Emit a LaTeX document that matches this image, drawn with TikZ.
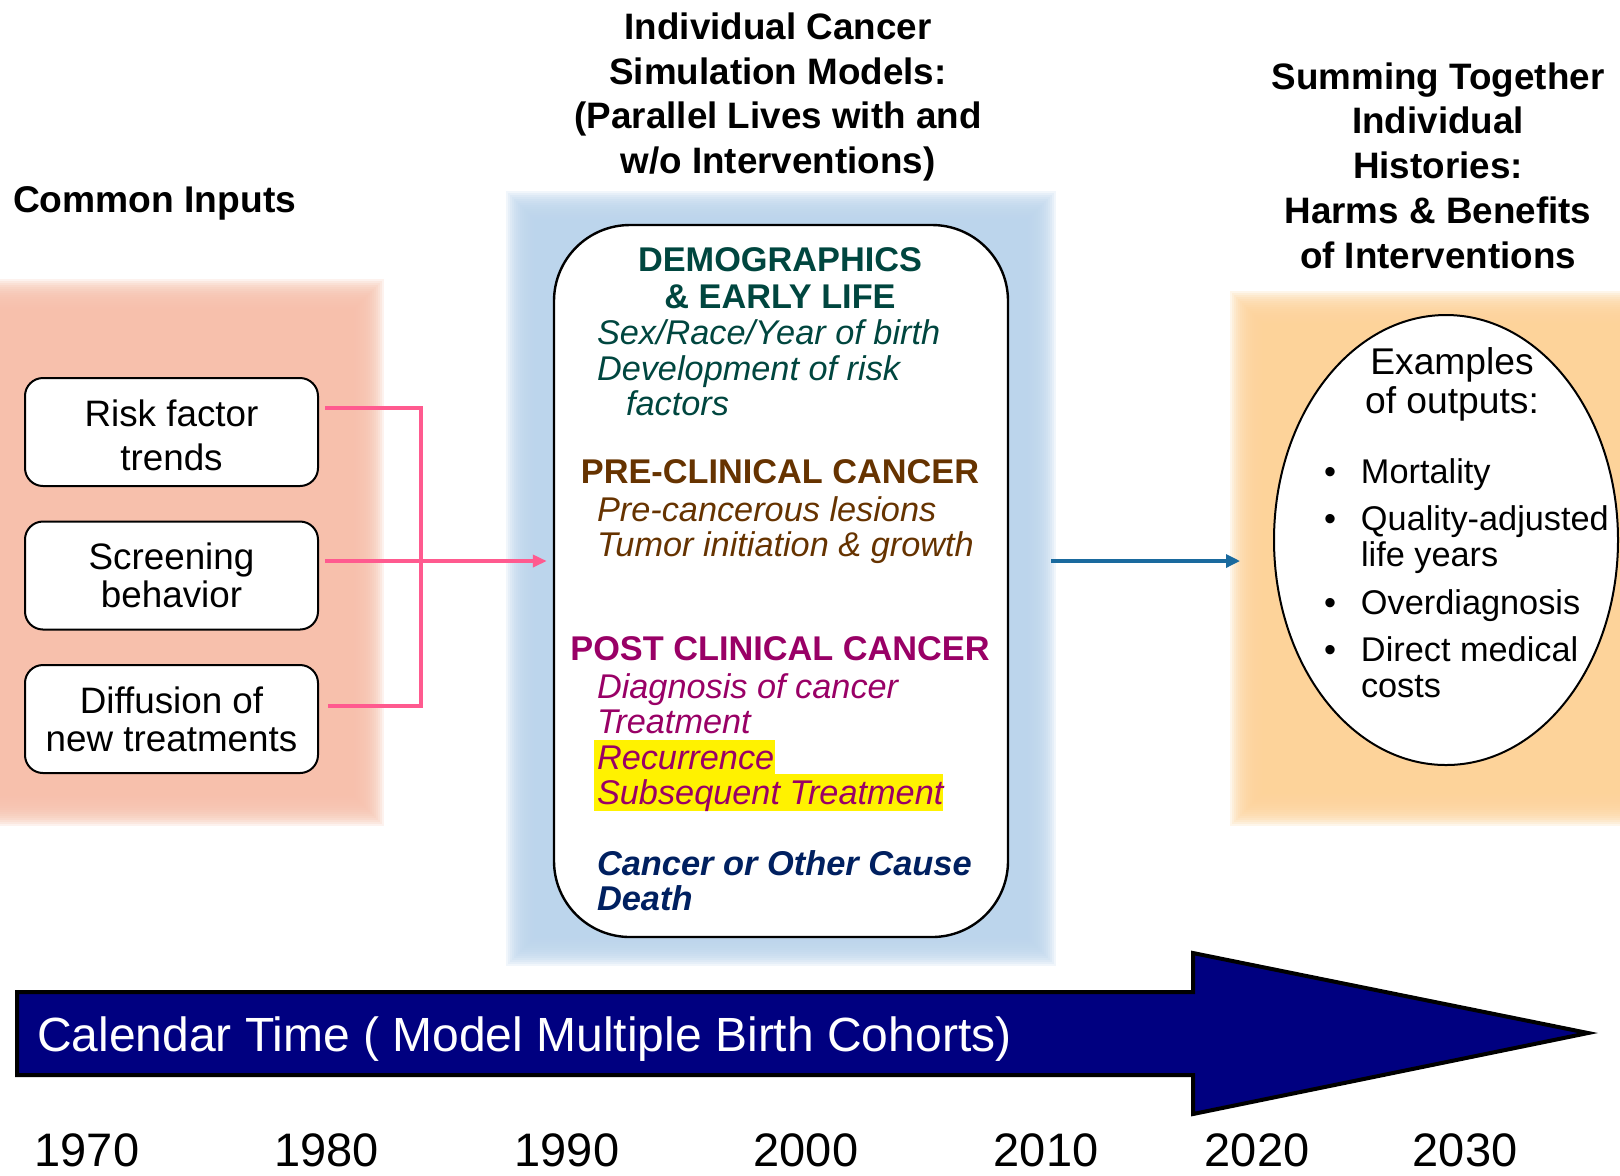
\documentclass[tikz,border=0pt]{standalone}
\usepackage{fontspec}
\setmainfont{Liberation Sans}
\usetikzlibrary{shapes.geometric,arrows.meta,calc}
\definecolor{pinkbg}{HTML}{F7C0AC}
\definecolor{bluebg}{HTML}{BCD5EC}
\definecolor{orangebg}{HTML}{FDD39A}
\definecolor{pinkline}{HTML}{FF5A8F}
\definecolor{blueline}{HTML}{1A6A9E}
\definecolor{democ}{HTML}{00463F}
\definecolor{brownc}{HTML}{663300}
\definecolor{purplec}{HTML}{990066}
\definecolor{navyc}{HTML}{002060}
\definecolor{arrowc}{HTML}{000080}
\newcommand{\fsz}[2]{\fontsize{#1}{#2}\selectfont}
\newcommand{\softbg}[5]{%
  \foreach \k in {-32,-30,...,6}{\fill[#1, fill opacity=0.2] ({#2-\k},{#3-\k}) rectangle ({#4+\k},{#5+\k});}}
\begin{document}
\begin{tikzpicture}[x=0.5pt,y=-0.5pt,
  txt/.style={inner sep=0pt, outer sep=0pt},
  inbox/.style={draw=black, line width=1pt, fill=white, rounded corners=9pt,
    minimum width=146.5pt, minimum height=54pt, align=center, inner sep=0pt,
    font=\fsz{18.4pt}{19pt}},
  pinkconn/.style={pinkline, line width=2pt},
  itemtxt/.style={txt, anchor=west, align=left, font=\itshape\fsz{17.15pt}{17.75pt}},
  headtxt/.style={txt, align=center, font=\bfseries\fsz{17.15pt}{18.25pt}},
  titletxt/.style={txt, align=center, font=\bfseries\fsz{18.4pt}{22.4pt}}]
\useasboundingbox (0,0) rectangle (1620,1175);
\fill[white] (0,0) rectangle (1620,1175);
% soft background panels
\softbg{pinkbg}{-40}{285}{378}{820}
\softbg{bluebg}{512}{197}{1050}{960}
\softbg{orangebg}{1236}{297}{1660}{820}
% titles
\node[titletxt] (ttl) at (778,97) {Individual Cancer\\Simulation Models:\\(Parallel Lives with and\\w/o Interventions)};
\node[txt, anchor=west, font=\bfseries\fsz{18.6pt}{22pt}] (ci) at (13,203) {Common Inputs};
\node[titletxt] (sum) at (1438,165.5) {Summing Together\\Individual\\Histories:\\Harms \& Benefits\\of Interventions};
% central box
\node[draw=black, line width=1.2pt, fill=white, rounded corners=38pt, minimum width=227pt, minimum height=356pt, inner sep=0pt] (cbox) at (781,581) {};
\fill[yellow] (594,740) rectangle (775,774);
\fill[yellow] (594,774) rectangle (943,811);
\node[headtxt, text=democ] (demoh) at (780,278) {DEMOGRAPHICS\\\& EARLY LIFE};
\node[itemtxt, text=democ] (demoi) at (597,368) {Sex/Race/Year of birth\\Development of risk\\\hspace*{14.5pt}factors};
\node[headtxt, text=brownc] (preh) at (780,472) {PRE-CLINICAL CANCER};
\node[itemtxt, text=brownc] (prei) at (597,530) {Pre-cancerous lesions\\Tumor initiation \& growth};
\node[headtxt, text=purplec] (posth) at (780,649) {POST CLINICAL CANCER};
\node[itemtxt, text=purplec] (posti) at (597,742.5) {Diagnosis of cancer\\Treatment\\Recurrence\\Subsequent Treatment};
\node[txt, anchor=west, align=left, text=navyc, font=\bfseries\itshape\fsz{17.2pt}{17.5pt}] (death) at (597,880.5) {Cancer or Other Cause\\Death};
% input boxes
\node[inbox, font=\fsz{18.4pt}{22.2pt}] (b1) at (171.5,432) {\rule{0pt}{16.5pt}Risk factor\\trends};
\node[inbox] (b2) at (171.5,575.5) {Screening\\behavior};
\node[inbox] (b3) at (171.5,719) {Diffusion of\\new treatments};
% connectors
\coordinate (jt) at (421,408);
\coordinate (jm) at (421,561);
\coordinate (jb) at (421,706);
\draw[pinkconn] ($(b1.east |- jt)+(6,0)$) -- (jt) -- (jb) -- ($(b3.east |- jb)+(9,0)$);
\draw[pinkconn, -{Triangle[length=7pt,width=6pt]}] ($(b2.east |- jm)+(6,0)$) -- ($(cbox.west |- jm)+(-6,0)$);
% outputs ellipse
\node[ellipse, draw=black, line width=1pt, fill=white, minimum width=172pt, minimum height=225pt, inner sep=0pt] (ell) at (1446,540) {};
\draw[blueline, line width=1.6pt, -{Triangle[length=7pt,width=6.5pt]}] ($(cbox.east |- jm)+(42,0)$) -- ($(ell.west |- jm)+(-33,0)$);
\node[txt, align=center, font=\fsz{18.6pt}{19.5pt}] (ex) at (1452,384) {Examples\\of outputs:};
\node[txt, anchor=west, align=left, font=\fsz{17.15pt}{18pt}] (outl) at (1324,578) {\makebox[18.5pt][l]{•}Mortality\\[5.75pt]\makebox[18.5pt][l]{•}Quality-adjusted\\\hspace*{18.5pt}life years\\[5.75pt]\makebox[18.5pt][l]{•}Overdiagnosis\\[5.75pt]\makebox[18.5pt][l]{•}Direct medical\\\hspace*{18.5pt}costs};
% time arrow
\draw[fill=arrowc, draw=black, line width=2pt, line join=miter] (17,992) -- (1193,992) -- (1193,953) -- (1588,1033) -- (1193,1114) -- (1193,1075) -- (17,1075) -- cycle;
\node[txt, anchor=west, text=white, font=\fsz{24pt}{26pt}] (cal) at (37,1039) {Calendar Time ( Model Multiple Birth Cohorts)};
\foreach \yr/\xx in {1970/87,1980/326.5,1990/567,2000/806,2010/1046,2020/1257,2030/1465}
  \node[txt, font=\fsz{23.5pt}{24pt}] (y\yr) at (\xx,1150) {\yr};
\end{tikzpicture}
\end{document}
